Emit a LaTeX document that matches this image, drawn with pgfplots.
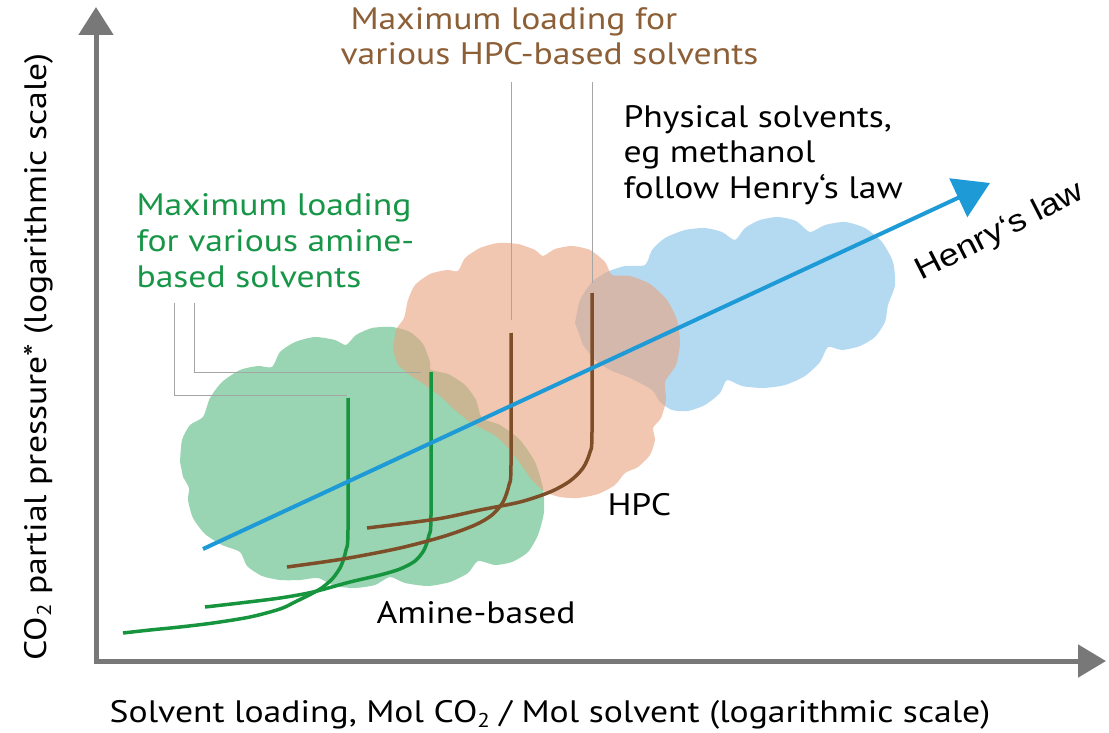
\documentclass[border=0pt]{standalone}
\usepackage{fontspec}
\setmainfont{PT Sans}[FakeStretch=1.15]
\newfontfamily\arialf{Liberation Sans}[FakeStretch=1.15]
\usepackage{pgfplots}
\pgfplotsset{compat=1.18}
\usetikzlibrary{arrows.meta}
\definecolor{gcloud}{RGB}{153,213,179}
\definecolor{bcloud}{RGB}{180,218,241}
\definecolor{ocloud}{RGB}{233,162,125}
\definecolor{gline}{RGB}{22,148,62}
\definecolor{bline}{RGB}{125,78,40}
\definecolor{hline}{RGB}{30,155,215}
\definecolor{gtext}{RGB}{24,150,72}
\definecolor{btext}{RGB}{140,95,55}
\definecolor{axgray}{RGB}{120,120,120}
\definecolor{leader}{RGB}{165,165,165}
\newcommand\fs{\fontsize{31}{36}\selectfont}
\newcommand\sub[1]{{\fontsize{20}{20}\selectfont\raisebox{-5pt}{#1}}}
\begin{document}
\begin{tikzpicture}
\begin{axis}[width=1109pt,height=733pt,scale only axis,xmin=0,xmax=1109,ymin=0,ymax=733,y dir=reverse,
  axis line style={draw=none},xtick=\empty,ytick=\empty,clip=false]
\addplot[draw=none,forget plot] coordinates {(0,0)(1109,733)};
% green cloud
\addplot[fill=gcloud,draw=none,smooth,tension=0.4] coordinates {
(180,462)(182,440)(190,425)(203,417)(210,398)(222,382)(240,370)(258,366)(272,367)
(280,352)(295,342)(315,337)(335,340)(346,345)(356,335)(372,328)(392,327)(410,332)
(423,344)(430,362)(431,370)(448,374)(465,385)(476,400)(482,418)(500,425)(520,440)
(535,462)(543,488)(544,512)(538,535)(528,552)(512,562)(495,565)(478,561)(468,573)
(450,582)(428,586)(405,583)(390,577)(375,585)(355,588)(335,586)(318,578)(300,580)
(280,580)(262,576)(247,566)(240,552)(222,545)(205,534)(193,518)(188,500)(189,488)(183,477)
} -- cycle;
% blue cloud
\addplot[fill=bcloud,draw=none,smooth,tension=0.4] coordinates {
(575,323)(580,300)(592,282)(607,272)(625,266)(645,265)(652,250)(665,238)(685,230)
(705,228)(722,232)(735,240)(745,228)(760,220)(778,217)(796,221)(810,232)(825,225)
(845,222)(865,228)(882,242)(893,262)(895,285)(888,305)(885,322)(875,337)(860,346)
(842,350)(828,347)(820,362)(805,376)(785,385)(763,388)(742,386)(727,380)(720,393)
(705,405)(688,411)(672,410)(660,402)(652,390)(630,378)(610,370)(595,360)(583,345)
} -- cycle;
% orange cloud
\addplot[fill=ocloud,fill opacity=0.6,draw=none,smooth,tension=0.4] coordinates {
(393,350)(396,330)(404,318)(408,300)(415,285)(430,274)(447,270)(458,271)(465,258)
(480,248)(498,243)(518,244)(535,250)(543,256)(555,249)(572,246)(590,250)(605,262)
(612,275)(630,276)(650,284)(667,300)(677,320)(680,343)(676,365)(665,382)(666,400)
(661,418)(653,428)(655,440)(650,455)(638,467)(625,473)(615,485)(598,494)(578,498)
(560,497)(545,492)(532,480)(522,466)(510,450)(497,437)(485,430)(470,422)(455,410)
(440,396)(425,385)(410,375)(398,365)
} -- cycle;
% leader lines
\addplot[leader,line width=1pt] coordinates {(511,82)(511,320)};
\addplot[leader,line width=1pt] coordinates {(592,82)(592,283)};
\addplot[leader,line width=1pt] coordinates {(174,303)(174,395)(347,395)};
\addplot[leader,line width=1pt] coordinates {(194,303)(194,372)(421,372)};
% green curves
\addplot[gline,line width=3.5pt,smooth,tension=0.5] coordinates {
(348,398)(348,530)(346,550)(341,566)(333,578)(323,587)(313,593)(295,602)(280,609)(250,617)(213,623)(180,627)(150,630)(123,633)};
\addplot[gline,line width=3.5pt,smooth,tension=0.5] coordinates {
(431,372)(431,515)(429,535)(424,550)(415,561)(400,569)(380,575)(350,582)(313,592)(280,598)(240,603)(205,607)};
% brown curves
\addplot[bline,line width=3.5pt,smooth,tension=0.5] coordinates {
(511,333)(511,465)(509,485)(503,502)(492,515)(475,525)(445,536)(400,548)(343,559)(287,567)};
\addplot[bline,line width=3.5pt,smooth,tension=0.5] coordinates {
(592,293)(592,432)(590,452)(583,468)(570,481)(550,492)(520,502)(480,510)(437,519)(367,528)};
% Henry's law line
\addplot[hline,line width=4pt,-{Triangle[length=35pt,width=42pt]}] coordinates {(203,549)(990,183)};
% axes
\addplot[axgray,line width=5pt,-{Triangle[length=28pt,width=34pt]}] coordinates {(96,663.5)(96,7)};
\addplot[axgray,line width=5pt,-{Triangle[length=28pt,width=32pt]}] coordinates {(93.5,661)(1106,661)};
% texts
\node[anchor=base west,font=\fs,text=gtext] at (axis cs:133,215) {Maximum loading};
\node[anchor=base west,font=\fs,text=gtext] at (axis cs:133,251) {for various amine-};
\node[anchor=base west,font=\fs,text=gtext] at (axis cs:133,287) {based solvents};
\node[anchor=base west,font=\fs,text=btext] at (axis cs:347,30) {Maximum loading for};
\node[anchor=base west,font=\fs,text=btext] at (axis cs:337,65) {various HPC-based solvents};
\node[anchor=base west,font=\fs] at (axis cs:620,128) {Physical solvents,};
\node[anchor=base west,font=\fs] at (axis cs:620,163) {eg methanol};
\node[anchor=base west,font=\fs] at (axis cs:620,198) {follow Henry‘s law};
\node[anchor=base west,font=\fs] at (axis cs:604,515) {HPC};
\node[anchor=base west,font=\fs] at (axis cs:373,623) {Amine-based};
\node[anchor=center,rotate=27,font={\arialf\fontsize{31}{36}\selectfont}] at (axis cs:1000,232) {Henry‘s law};
\node[anchor=base,font=\fs] at (axis cs:550,722) {Solvent loading, Mol CO\sub{2} / Mol solvent (logarithmic scale)};
\node[anchor=base,rotate=90,font=\fs] at (axis cs:46,357) {CO\sub{2} partial pressure* (logarithmic scale)};
\end{axis}
\end{tikzpicture}
\end{document}
